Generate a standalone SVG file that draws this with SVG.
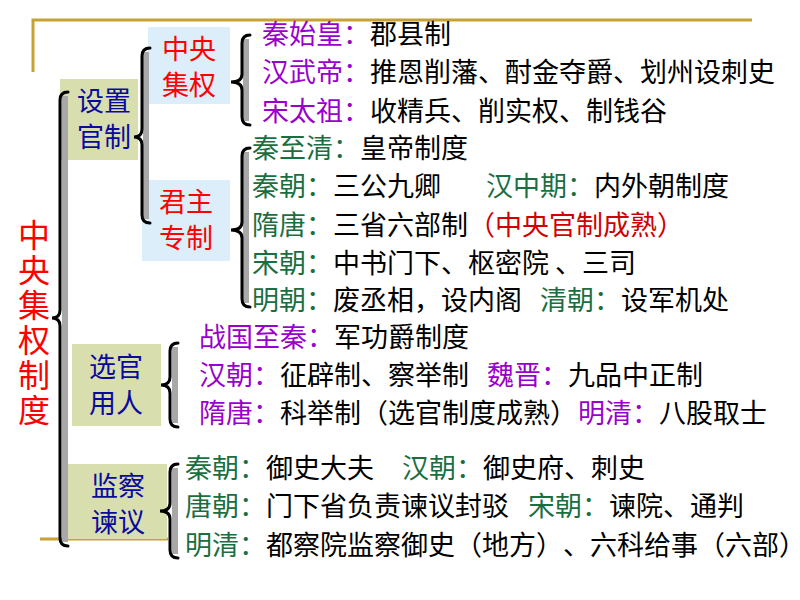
<svg xmlns="http://www.w3.org/2000/svg" width="800" height="600" viewBox="0 0 800 600">
<style>
text{font-family:"Noto Sans CJK SC","Noto Sans",sans-serif;font-size:27px;fill:#000;text-spacing-trim:space-all}
.pu{fill:#9900CC}
.gr{fill:#1B6E3F}
.rd{fill:#FF0000}
.dr{fill:#D00000}
.bl{fill:#0A0A9C}
.mid{text-anchor:middle}
.vert{font-size:32px;writing-mode:vertical-rl;letter-spacing:3px}
.kh{fill:#D9DEAF}
.lb{fill:#DCEEF9}
.gold{stroke:#C6A234;stroke-width:3;fill:none}
.sh{stroke:#A8A8A8;stroke-width:6;fill:none}
.br{stroke:#000;stroke-width:3;fill:none;stroke-linecap:round}
</style>
<rect width="800" height="600" fill="#fff"/>
<g id="frame">
<path class="gold" d="M33 72 V20 H752"/>
<path class="gold" d="M40 539 H168"/>
</g>
<g id="root">
<text class="rd vert" x="34" y="219">中央集权制度</text>
</g>
<g id="n-shezhi">
<rect class="kh" x="60" y="79" width="78" height="81"/>
<text class="bl mid" x="104" y="111">设置<tspan x="104" dy="36">官制</tspan></text>
</g>
<g id="n-zhongyang">
<rect class="lb" x="148" y="27" width="82" height="77"/>
<text class="rd mid" x="189" y="59">中央<tspan x="189" dy="36">集权</tspan></text>
</g>
<g id="n-junzhu">
<rect class="lb" x="142" y="180" width="88" height="81"/>
<text class="rd mid" x="186" y="212">君主<tspan x="186" dy="36">专制</tspan></text>
</g>
<g id="n-xuanguan">
<rect class="kh" x="72" y="344" width="89" height="82"/>
<text class="bl mid" x="116" y="377">选官<tspan x="116" dy="36">用人</tspan></text>
</g>
<g id="n-jiancha">
<rect class="kh" x="68" y="464" width="99" height="75"/>
<text class="bl mid" x="118" y="496">监察<tspan x="118" dy="36">谏议</tspan></text>
</g>
<g id="connectors">
<path class="sh" d="M65 96 V542"/>
<path class="br" d="M68 92 Q60 92 60 100 V310 Q60 318 52 318 Q60 318 60 326 V538 Q60 546 68 546"/>
<path class="sh" d="M146 52 V219"/>
<path class="br" d="M150 48 Q142 48 142 56 V129 Q142 137 134 137 Q142 137 142 145 V215 Q142 223 150 223"/>
<path class="sh" d="M246 39 V121"/>
<path class="br" d="M250 35 Q242 35 242 43 V74 Q242 82 231 82 Q242 82 242 90 V117 Q242 125 250 125"/>
<path class="sh" d="M246 152 V303"/>
<path class="br" d="M250 148 Q242 148 242 156 V222 Q242 230 231 230 Q242 230 242 238 V299 Q242 307 250 307"/>
<path class="sh" d="M175 347 V423"/>
<path class="br" d="M178 343 Q170 343 170 351 V377 Q170 385 161 385 Q170 385 170 393 V419 Q170 427 178 427"/>
<path class="sh" d="M175 468 V554"/>
<path class="br" d="M178 464 Q170 464 170 472 V503 Q170 511 160 511 Q170 511 170 519 V550 Q170 558 178 558"/>
</g>
<g id="l-zhongyang">
<text x="262" y="44"><tspan class="pu">秦始皇：</tspan>郡县制</text>
<text x="262" y="82"><tspan class="pu">汉武帝：</tspan>推恩削藩、酎金夺爵、划州设刺史</text>
<text x="262" y="121"><tspan class="pu">宋太祖：</tspan>收精兵、削实权、制钱谷</text>
</g>
<g id="l-junzhu">
<text x="252" y="158"><tspan class="gr">秦至清：</tspan>皇帝制度</text>
<text x="252" y="196"><tspan class="gr">秦朝：</tspan>三公九卿</text>
<text x="486" y="196"><tspan class="gr">汉中期：</tspan>内外朝制度</text>
<text x="252" y="235"><tspan class="gr">隋唐：</tspan>三省六部制<tspan class="dr">（中央官制成熟）</tspan></text>
<text x="252" y="273"><tspan class="gr">宋朝：</tspan>中书门下、枢密院 、三司</text>
<text x="252" y="310"><tspan class="gr">明朝：</tspan>废丞相，设内阁</text>
<text x="540" y="310"><tspan class="gr">清朝：</tspan>设军机处</text>
</g>
<g id="l-xuanguan">
<text x="199" y="347"><tspan class="pu">战国至秦：</tspan>军功爵制度</text>
<text x="199" y="385"><tspan class="pu">汉朝：</tspan>征辟制、察举制</text>
<text x="487" y="385"><tspan class="pu">魏晋：</tspan>九品中正制</text>
<text x="199" y="423"><tspan class="pu">隋唐：</tspan>科举制（选官制度成熟）</text>
<text x="578" y="423"><tspan class="pu">明清：</tspan>八股取士</text>
</g>
<g id="l-jiancha">
<text x="185" y="478"><tspan class="gr">秦朝：</tspan>御史大夫</text>
<text x="402" y="478"><tspan class="gr">汉朝：</tspan>御史府、刺史</text>
<text x="185" y="516"><tspan class="gr">唐朝：</tspan>门下省负责谏议封驳</text>
<text x="528" y="516"><tspan class="gr">宋朝：</tspan>谏院、通判</text>
<text x="185" y="555"><tspan class="gr">明清：</tspan>都察院监察御史（地方）、六科给事（六部）</text>
</g>
</svg>
